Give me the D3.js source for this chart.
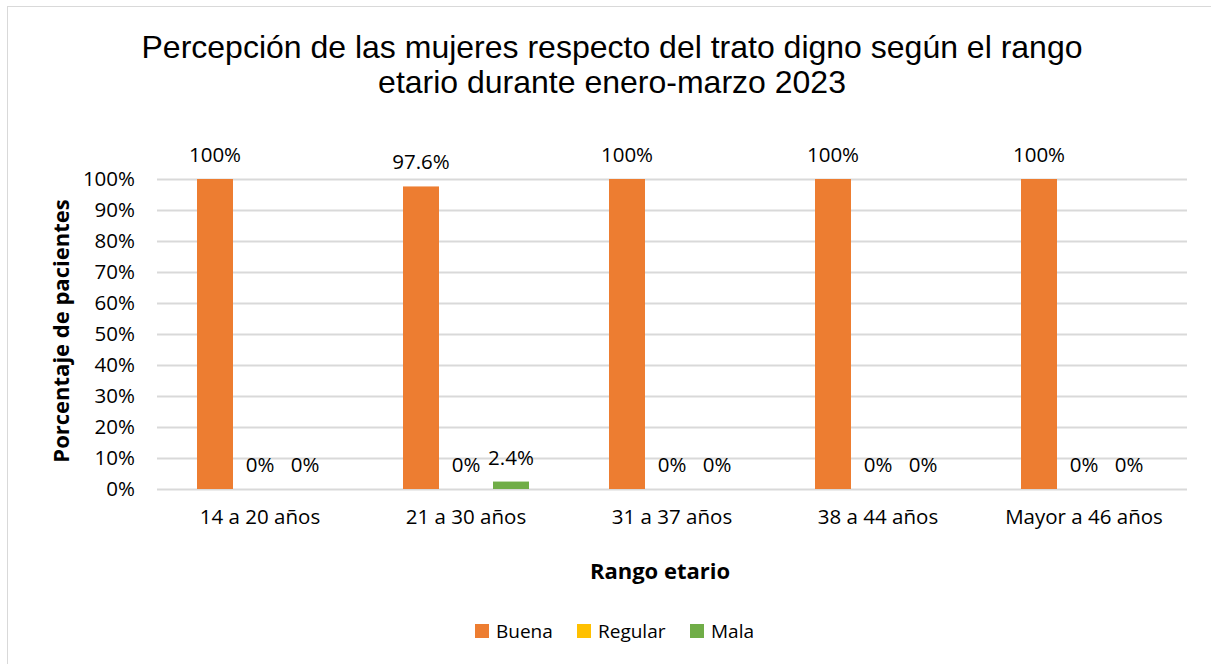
<!DOCTYPE html>
<html>
<head>
<meta charset="utf-8">
<script src="https://cdn.jsdelivr.net/npm/d3@7"></script>
<style>
  body { margin: 0; background: #fff; }
  svg text { fill: #000; }
</style>
</head>
<body>
<div id="chart"></div>
<script>
const categories = ["14 a 20 años", "21 a 30 años", "31 a 37 años", "38 a 44 años", "Mayor a 46 años"];
const seriesNames = ["Buena", "Regular", "Mala"];
const buena = [100, 97.6, 100, 100, 100];
const regular = [0, 0, 0, 0, 0];
const mala = [0, 2.4, 0, 0, 0];
const labels = [
  ["100%", "0%", "0%"],
  ["97.6%", "0%", "2.4%"],
  ["100%", "0%", "0%"],
  ["100%", "0%", "0%"],
  ["100%", "0%", "0%"]
];
const yTicks = [0, 10, 20, 30, 40, 50, 60, 70, 80, 90, 100];
const colors = ["#ED7D31", "#FFC000", "#70AD47"];

const width = 1211,
  height = 664;
const bodyFont = "'Open Sans', sans-serif";
const bodySize = "20.5px";

const svg = d3
  .select("#chart")
  .append("svg")
  .attr("width", width)
  .attr("height", height);

// chart border
svg
  .append("rect")
  .attr("x", 7.5)
  .attr("y", 6.5)
  .attr("width", width + 20)
  .attr("height", height + 20)
  .attr("fill", "#fff")
  .attr("stroke", "#D9D9D9")
  .attr("stroke-width", 1);

// title
const title = svg
  .append("text")
  .attr("text-anchor", "middle")
  .style("font-family", "'Liberation Sans', Arial, sans-serif")
  .style("font-size", "32px");
title.append("tspan").attr("x", 612).attr("y", 58)
  .text("Percepción de las mujeres respecto del trato digno según el rango");
title.append("tspan").attr("x", 612).attr("y", 93)
  .text("etario durante enero-marzo 2023");

const plotLeft = 157,
  plotRight = 1187,
  plotTop = 179,
  plotBottom = 489;

const x0 = d3.scaleBand().domain(categories).range([plotLeft, plotRight]);
const x1 = d3
  .scaleBand()
  .domain(seriesNames)
  .range([40, x0.bandwidth() - 40])
  .paddingInner(0.2);
const y = d3.scaleLinear().domain([0, 100]).range([plotBottom, plotTop]);

// gridlines
svg
  .append("g")
  .selectAll("line")
  .data(yTicks)
  .enter()
  .append("line")
  .attr("x1", plotLeft)
  .attr("x2", plotRight)
  .attr("y1", (d) => Math.round(y(d)) + 0.5)
  .attr("y2", (d) => Math.round(y(d)) + 0.5)
  .attr("stroke", "#D9D9D9")
  .attr("stroke-width", 2);

// y axis labels
const yAxis = d3
  .axisLeft(y)
  .tickValues(yTicks)
  .tickFormat((d) => d + "%")
  .tickSize(0)
  .tickPadding(22);
const yAxisG = svg
  .append("g")
  .attr("transform", "translate(" + plotLeft + ",0)")
  .call(yAxis);
yAxisG.select(".domain").remove();
yAxisG
  .selectAll("text")
  .style("font-family", bodyFont)
  .style("font-size", bodySize)
  .attr("fill", "#000");

// x axis labels
const xAxis = d3.axisBottom(x0).tickSize(0).tickPadding(20);
const xAxisG = svg
  .append("g")
  .attr("transform", "translate(0," + plotBottom + ")")
  .call(xAxis);
xAxisG.select(".domain").remove();
xAxisG
  .selectAll("text")
  .style("font-family", bodyFont)
  .style("font-size", bodySize)
  .attr("fill", "#000");

// bars
const rows = categories.map((c, i) => ({
  cat: c,
  vals: [buena[i], regular[i], mala[i]],
  labels: labels[i]
}));

const groups = svg
  .selectAll(".group")
  .data(rows)
  .enter()
  .append("g")
  .attr("class", "group")
  .attr("transform", (d) => "translate(" + x0(d.cat) + ",0)");

groups
  .selectAll("rect")
  .data((d) => d.vals.map((v, j) => ({ key: seriesNames[j], v: v, j: j })))
  .enter()
  .append("rect")
  .attr("x", (d) => x1(d.key))
  .attr("width", x1.bandwidth())
  .attr("y", (d) => y(d.v))
  .attr("height", (d) => plotBottom - y(d.v))
  .attr("fill", (d) => colors[d.j]);

groups
  .selectAll(".lbl")
  .data((d) => d.vals.map((v, j) => ({ key: seriesNames[j], v: v, t: d.labels[j] })))
  .enter()
  .append("text")
  .attr("class", "lbl")
  .attr("x", (d) => x1(d.key) + x1.bandwidth() / 2)
  .attr("y", (d) => y(d.v) - 17)
  .attr("text-anchor", "middle")
  .style("font-family", bodyFont)
  .style("font-size", bodySize)
  .text((d) => d.t);

// axis titles
svg
  .append("text")
  .attr("transform", "translate(69,331) rotate(-90)")
  .attr("text-anchor", "middle")
  .style("font-family", bodyFont)
  .style("font-size", "22px")
  .style("font-weight", "bold")
  .text("Porcentaje de pacientes");

svg
  .append("text")
  .attr("x", 660)
  .attr("y", 579)
  .attr("text-anchor", "middle")
  .style("font-family", bodyFont)
  .style("font-size", "22px")
  .style("font-weight", "bold")
  .text("Rango etario");

// legend
const legendX = [475, 577, 690];
const legend = svg
  .selectAll(".legend")
  .data(seriesNames)
  .enter()
  .append("g")
  .attr("class", "legend")
  .attr("transform", (d, i) => "translate(" + legendX[i] + ",624)");
legend
  .append("rect")
  .attr("width", 14)
  .attr("height", 14)
  .attr("fill", (d, i) => colors[i]);
legend
  .append("text")
  .attr("x", 21)
  .attr("y", 14)
  .style("font-family", bodyFont)
  .style("font-size", "19px")
  .text((d) => d);
</script>
</body>
</html>
